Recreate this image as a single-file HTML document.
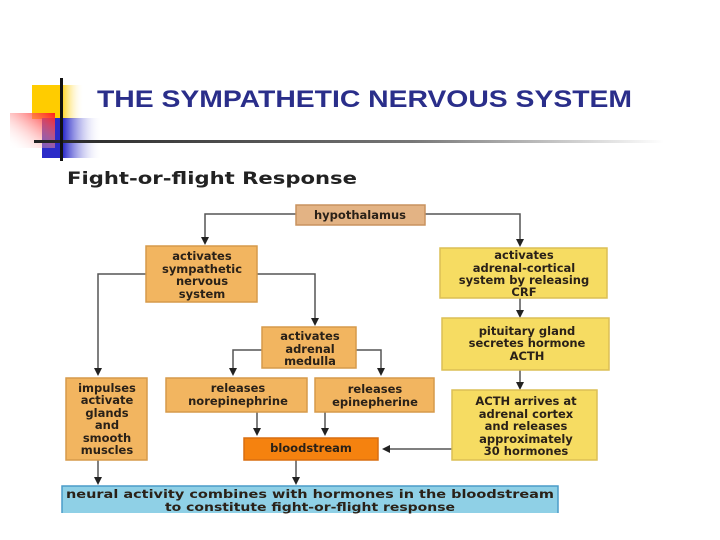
<!DOCTYPE html>
<html><head><meta charset="utf-8"><style>
html,body{margin:0;padding:0;background:#fff;width:720px;height:540px;overflow:hidden}
svg{display:block}
text{font-family:"DejaVu Sans","Liberation Sans",sans-serif;font-weight:bold;fill:#2a2118}
</style></head><body>
<svg width="720" height="540" viewBox="0 0 720 540" xmlns="http://www.w3.org/2000/svg">
<defs>
<linearGradient id="yg" x1="0" x2="1"><stop offset="0.55" stop-color="#ffcc00"/><stop offset="1" stop-color="#fff" stop-opacity="0"/></linearGradient>
<linearGradient id="rg" x1="1" x2="0" y1="0" y2="1"><stop offset="0" stop-color="#ff1a1a"/><stop offset="1" stop-color="#fff" stop-opacity="0"/></linearGradient>
<linearGradient id="bg" x1="0" x2="1"><stop offset="0.35" stop-color="#2b2bc8"/><stop offset="1" stop-color="#fff" stop-opacity="0"/></linearGradient>
<linearGradient id="lg" x1="0" x2="1"><stop offset="0" stop-color="#222"/><stop offset="0.6" stop-color="#777"/><stop offset="1" stop-color="#fff"/></linearGradient>
<marker id="a" markerWidth="8" markerHeight="8" refX="4" refY="4" orient="auto" markerUnits="userSpaceOnUse"><path d="M0,0 L8,4 L0,8 z" fill="#222"/></marker>
</defs>
<rect x="32" y="85" width="52" height="34" fill="url(#yg)"/>
<rect x="42" y="118" width="60" height="40" fill="url(#bg)"/>
<rect x="10" y="113" width="45" height="35" fill="url(#rg)"/>
<rect x="34" y="140" width="630" height="3" fill="url(#lg)"/>
<rect x="60" y="78" width="3" height="83" fill="#111"/>
<text x="97" y="107" font-size="24" textLength="535" lengthAdjust="spacingAndGlyphs" style="fill:#2a2e8a;font-family:'Liberation Sans',sans-serif">THE SYMPATHETIC NERVOUS SYSTEM</text>
<text x="67" y="184" font-size="17" style="fill:#222" textLength="290" lengthAdjust="spacingAndGlyphs">Fight-or-flight Response</text>

<g stroke="#555" stroke-width="1.5" fill="none">
<path d="M296,214 H205 V241" marker-end="url(#a)"/>
<path d="M425,214 H520 V243" marker-end="url(#a)"/>
<path d="M146,274 H98 V372" marker-end="url(#a)"/>
<path d="M257,274 H315 V322" marker-end="url(#a)"/>
<path d="M262,350 H233 V372" marker-end="url(#a)"/>
<path d="M356,350 H381 V372" marker-end="url(#a)"/>
<path d="M520,298 V314" marker-end="url(#a)"/>
<path d="M520,370 V386" marker-end="url(#a)"/>
<path d="M257,412 V432" marker-end="url(#a)"/>
<path d="M325,412 V432" marker-end="url(#a)"/>
<path d="M452,449 H386" marker-end="url(#a)"/>
<path d="M98,460 V481" marker-end="url(#a)"/>
<path d="M296,460 V481" marker-end="url(#a)"/>
</g>

<g stroke-width="1.5">
<rect x="296" y="205" width="129" height="20" fill="#e3b384" stroke="#c8925e"/>
<rect x="146" y="246" width="111" height="56" fill="#f2b560" stroke="#d69a4a"/>
<rect x="440" y="248" width="167" height="50" fill="#f6dc62" stroke="#dcbf55"/>
<rect x="442" y="318" width="167" height="52" fill="#f6dc62" stroke="#dcbf55"/>
<rect x="452" y="390" width="145" height="70" fill="#f6dc62" stroke="#dcbf55"/>
<rect x="262" y="327" width="94" height="41" fill="#f2b560" stroke="#d69a4a"/>
<rect x="66" y="378" width="81" height="82" fill="#f2b560" stroke="#d69a4a"/>
<rect x="166" y="378" width="141" height="34" fill="#f2b560" stroke="#d69a4a"/>
<rect x="315" y="378" width="119" height="34" fill="#f2b560" stroke="#d69a4a"/>
<rect x="244" y="438" width="134" height="22" fill="#f5820f" stroke="#d86e10"/>
<rect x="62" y="486" width="496" height="30" fill="#8fd0e6" stroke="#4a9cc8"/>
</g>
<rect x="0" y="513" width="720" height="27" fill="#fff"/>

<g font-size="11.5" text-anchor="middle">
<text x="360" y="219">hypothalamus</text>
<text x="202" y="260">activates</text><text x="202" y="273">sympathetic</text><text x="202" y="285">nervous</text><text x="202" y="298">system</text>
<text x="524" y="259">activates</text><text x="524" y="272">adrenal-cortical</text><text x="524" y="284">system by releasing</text><text x="524" y="296">CRF</text>
<text x="527" y="335">pituitary gland</text><text x="527" y="347">secretes hormone</text><text x="527" y="360">ACTH</text>
<text x="526" y="405">ACTH arrives at</text><text x="526" y="418">adrenal cortex</text><text x="526" y="430">and releases</text><text x="526" y="443">approximately</text><text x="526" y="455">30 hormones</text>
<text x="310" y="340">activates</text><text x="310" y="353">adrenal</text><text x="310" y="365">medulla</text>
<text x="107" y="392">impulses</text><text x="107" y="404">activate</text><text x="107" y="417">glands</text><text x="107" y="429">and</text><text x="107" y="442">smooth</text><text x="107" y="454">muscles</text>
<text x="238" y="392">releases</text><text x="238" y="405">norepinephrine</text>
<text x="375" y="393">releases</text><text x="375" y="406">epinepherine</text>
<text x="311" y="452">bloodstream</text>
<text x="310" y="498" textLength="488" lengthAdjust="spacingAndGlyphs">neural activity combines with hormones in the bloodstream</text>
<text x="310" y="511" textLength="290" lengthAdjust="spacingAndGlyphs">to constitute fight-or-flight response</text>
</g>
</svg>
</body></html>
